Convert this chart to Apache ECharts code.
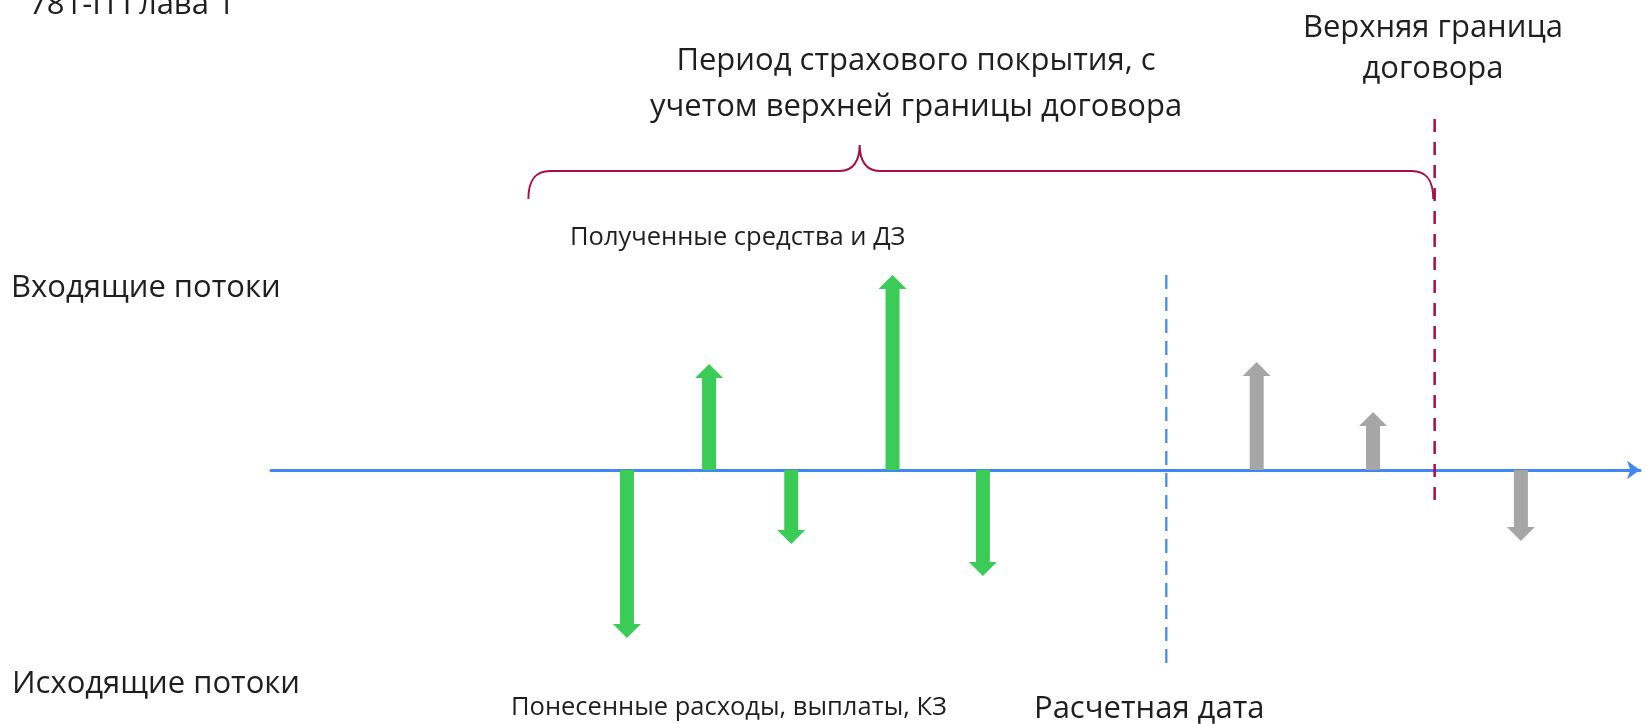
<!DOCTYPE html>
<html>
<head>
<meta charset="utf-8">
<script src="https://cdn.jsdelivr.net/npm/echarts@6/dist/echarts.min.js"></script>
<style>
  html, body { margin: 0; padding: 0; background: #fff; }
  #main { width: 1646px; height: 724px; }
</style>
</head>
<body>
<div id="main"></div>
<script>
// денежные потоки: момент времени и величина (вверх +, вниз -)
let cashPeriods = [13, 16, 19, 22.7, 26];
let cashValues = [-168, 106, -74, 195, -106];
let futurePeriods = [36, 40.25, 45.65];
let futureValues = [108, 58, -71];

// расчетная дата и верхняя граница договора
let reportDate = 32.7;
let boundaryDate = 42.5;
let coverStart = 9.4;
let coverMid = 21.5;

let chart = echarts.init(document.getElementById('main'));

const TXT = '#1f1f1f';
const BIG = '31px "Open Sans"';
const SMALL = '25.5px "Open Sans"';

function arrowItem(color) {
    return function (params, api) {
        let p0 = api.coord([api.value(0), 0]);
        let p1 = api.coord([api.value(0), api.value(1)]);
        let x = p0[0];
        let dir = p1[1] > p0[1] ? 1 : -1;
        let hy = p1[1] - dir * 14;
        return {
            type: 'polygon',
            shape: {
                points: [
                    [x - 7, p0[1]], [x - 7, hy], [x - 14, hy], [x, p1[1]],
                    [x + 14, hy], [x + 7, hy], [x + 7, p0[1]]
                ]
            },
            style: { fill: color }
        };
    };
}

function pairs(xs, ys) {
    return xs.map((x, i) => [x, ys[i]]);
}

let option = {
    animation: false,
    grid: { left: 271, right: 6, top: 0, bottom: 0 },
    xAxis: {
        type: 'value', min: 0, max: 50,
        axisLine: {
            show: true, onZero: true,
            symbol: ['none', 'arrow'], symbolSize: [14, 13],
            lineStyle: { color: '#4286F5', width: 3 }
        },
        axisTick: { show: false }, axisLabel: { show: false }, splitLine: { show: false }
    },
    yAxis: {
        type: 'value', min: -254, max: 470, show: false
    },
    series: [
        {
            type: 'line', symbol: 'none', silent: true,
            data: [[reportDate, 195], [reportDate, -193]],
            lineStyle: { color: '#3F84F6', width: 2.2, type: [14, 8] }
        },
        {
            type: 'line', symbol: 'none', silent: true,
            data: [[boundaryDate, 351], [boundaryDate, -37]],
            lineStyle: { color: '#A6103F', width: 2.5, type: [13, 10] }
        },
        {
            type: 'custom',
            data: [[coverStart, boundaryDate - 0.05, coverMid]],
            renderItem: function (params, api) {
                let a = api.coord([api.value(0), 271]);
                let b = api.coord([api.value(1), 271]);
                let m = api.coord([api.value(2), 325]);
                let yb = a[1], yl = a[1] - 28, yp = m[1];
                let path = 'M' + a[0] + ',' + yb +
                    ' C' + a[0] + ',' + (yb - 18) + ' ' + (a[0] + 6) + ',' + yl + ' ' + (a[0] + 22) + ',' + yl +
                    ' L' + (m[0] - 20) + ',' + yl +
                    ' C' + (m[0] - 6) + ',' + yl + ' ' + m[0] + ',' + (yl - 11) + ' ' + m[0] + ',' + yp +
                    ' C' + m[0] + ',' + (yl - 11) + ' ' + (m[0] + 6) + ',' + yl + ' ' + (m[0] + 20) + ',' + yl +
                    ' L' + (b[0] - 22) + ',' + yl +
                    ' C' + (b[0] - 6) + ',' + yl + ' ' + b[0] + ',' + (yb - 18) + ' ' + b[0] + ',' + yb;
                return {
                    type: 'path',
                    shape: { pathData: path },
                    style: { fill: null, stroke: '#A6103F', lineWidth: 2 }
                };
            }
        },
        {
            type: 'custom',
            data: pairs(cashPeriods, cashValues),
            renderItem: arrowItem('#3BCB57')
        },
        {
            type: 'custom',
            data: pairs(futurePeriods, futureValues),
            renderItem: arrowItem('#A6A6A6')
        }
    ],
    graphic: [
        { type: 'text', x: 29, y: 5, style: { text: '781-П Глава 1', font: BIG, fill: TXT, verticalAlign: 'middle' } },
        { type: 'text', x: 916, y: 61, style: { text: 'Период страхового покрытия, с', font: BIG, fill: TXT, align: 'center', verticalAlign: 'middle' } },
        { type: 'text', x: 916, y: 107, style: { text: 'учетом верхней границы договора', font: BIG, fill: TXT, align: 'center', verticalAlign: 'middle' } },
        { type: 'text', x: 1433, y: 28, style: { text: 'Верхняя граница', font: BIG, fill: TXT, align: 'center', verticalAlign: 'middle' } },
        { type: 'text', x: 1433, y: 69, style: { text: 'договора', font: BIG, fill: TXT, align: 'center', verticalAlign: 'middle' } },
        { type: 'text', x: 570, y: 238, style: { text: 'Полученные средства и ДЗ', font: SMALL, fill: TXT, verticalAlign: 'middle' } },
        { type: 'text', x: 11, y: 288, style: { text: 'Входящие потоки', font: BIG, fill: TXT, verticalAlign: 'middle' } },
        { type: 'text', x: 12, y: 684, style: { text: 'Исходящие потоки', font: BIG, fill: TXT, verticalAlign: 'middle' } },
        { type: 'text', x: 511, y: 708, style: { text: 'Понесенные расходы, выплаты, КЗ', font: SMALL, fill: TXT, verticalAlign: 'middle' } },
        { type: 'text', x: 1034, y: 709, style: { text: 'Расчетная дата', font: BIG, fill: TXT, verticalAlign: 'middle' } }
    ]
};

chart.setOption(option);
</script>
</body>
</html>
